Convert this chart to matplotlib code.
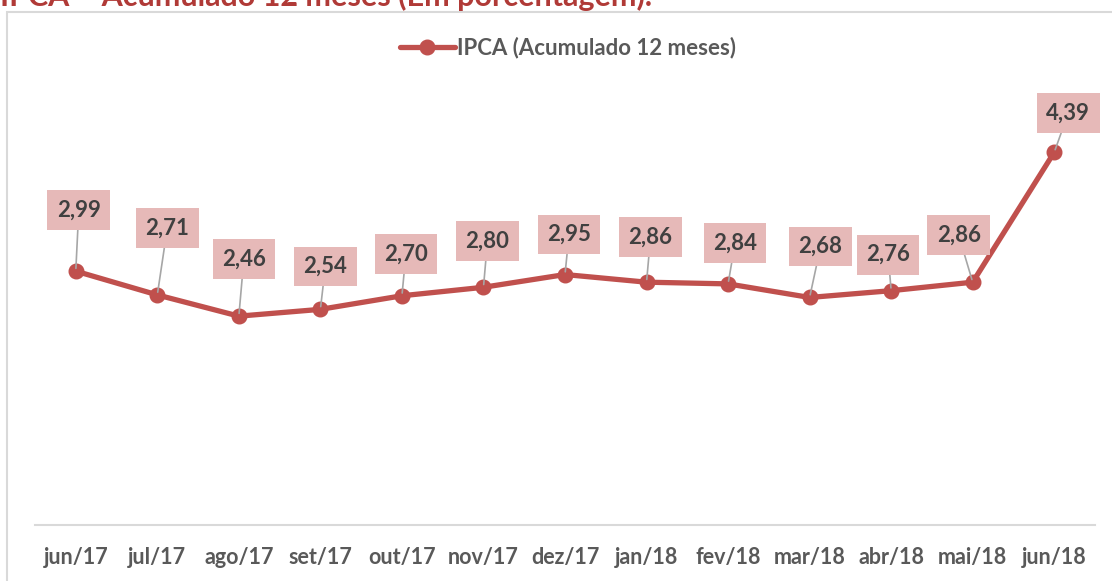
import matplotlib.pyplot as plt
from matplotlib.patches import Rectangle

# IPCA accumulated 12 months (%)
months = ['jun/17', 'jul/17', 'ago/17', 'set/17', 'out/17', 'nov/17', 'dez/17',
          'jan/18', 'fev/18', 'mar/18', 'abr/18', 'mai/18', 'jun/18']
ipca = [2.99, 2.71, 2.46, 2.54, 2.70, 2.80, 2.95, 2.86, 2.84, 2.68, 2.76, 2.86, 4.39]

# callout offsets (pixels) of each label box from its point
label_dx = [3, 10, 5, 5, 4, 4, 4, 4, 7, 11, -3, -14, 14]
label_dy = [61, 67, 57, 43, 42, 46, 40, 45, 41, 51, 36, 47, 39]

line_color = '#C0504D'
text_color = '#404040'
axis_text = '#595959'

plt.rcParams['font.family'] = ['Lato', 'DejaVu Sans']

fig = plt.figure(figsize=(11.12, 5.81), dpi=100)
W, H = 1112, 581

# chart frame
fig.patches.append(Rectangle((7 / W, -0.1), 1.2, (581 - 12) / H + 0.1,
                             transform=fig.transFigure, fill=False,
                             edgecolor='#D9D9D9', linewidth=1.5))

# clipped title at the top (cut off in the original as well)
fig.text(0, (581 - 6) / H, 'IPCA \u2013 Acumulado 12 meses (Em porcentagem).',
         color='#B03A37', fontsize=22, fontweight='bold', va='baseline', ha='left')

ax = fig.add_axes([35 / W, 56 / H, 1060 / W, 424.5 / H])
x = list(range(len(months)))
ax.plot(x, ipca, color=line_color, linewidth=3.8, marker='o', markersize=10.5,
        solid_capstyle='round', zorder=3, label='IPCA (Acumulado 12 meses)')

for xi, yi, dx, dy in zip(x, ipca, label_dx, label_dy):
    ax.annotate(f'{yi:.2f}'.replace('.', ','), xy=(xi, yi),
                xytext=(dx * 0.72, dy * 0.72), textcoords='offset points',
                ha='center', va='center', fontsize=16, fontweight='bold',
                color=text_color, zorder=4,
                bbox=dict(boxstyle='square,pad=0.42', fc='#E6B9B8', ec='none'),
                arrowprops=dict(arrowstyle='-', color='#A6A6A6', lw=1.2,
                                shrinkA=0, shrinkB=2))

ax.set_xlim(-0.5, len(months) - 0.5)
ax.set_ylim(0, 5)
ax.set_xticks(x)
ax.set_xticklabels(months, fontsize=15.5, fontweight='bold', color=axis_text)
ax.set_yticks([])
ax.tick_params(axis='x', length=0, pad=16)
for side in ['top', 'left', 'right']:
    ax.spines[side].set_visible(False)
ax.spines['bottom'].set_color('#D9D9D9')
ax.spines['bottom'].set_linewidth(1.5)

leg = fig.legend(loc='center', bbox_to_anchor=(568 / W, (581 - 48) / H),
                 frameon=False, handlelength=2.5, handletextpad=0.1,
                 prop={'weight': 'bold', 'size': 16})
for t in leg.get_texts():
    t.set_color(axis_text)

fig.savefig('out.png', dpi=100)
